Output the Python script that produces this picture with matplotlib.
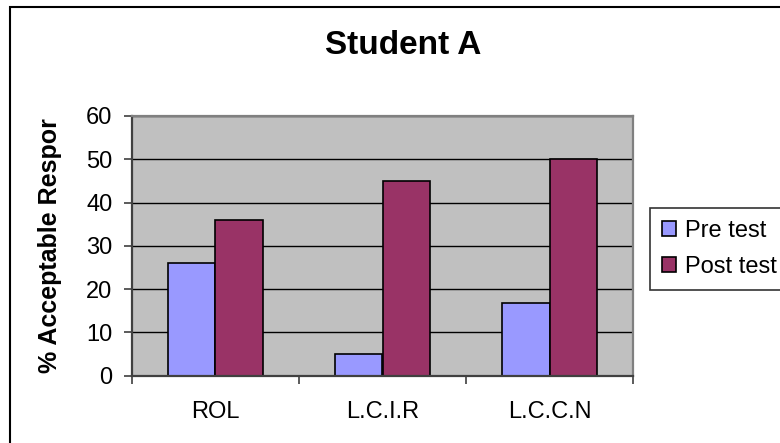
import matplotlib
matplotlib.use("Agg")
import matplotlib.pyplot as plt
from matplotlib.patches import Rectangle, Patch
import numpy as np

plt.rcParams['font.family'] = ['Liberation Sans', 'DejaVu Sans']

categories = ["ROL", "L.C.I.R", "L.C.C.N"]
pre_test = [26, 5, 16.7]
post_test = [36, 45, 50]
series_names = ["Pre test", "Post test"]
y_ticks = [0, 10, 20, 30, 40, 50, 60]

W, H, DPI = 780, 443, 100
fig = plt.figure(figsize=(W / DPI, H / DPI), dpi=DPI)
fig.patch.set_facecolor("white")

# chart frame
fig.patches.append(Rectangle((10 / W, -0.2), 2.0, 1.2 - 6.5 / H,
                             transform=fig.transFigure, fill=False,
                             edgecolor="black", linewidth=1.5, zorder=0))

left, right, top, bottom = 131.7, 633.3, 116.0, 375.7
ax = fig.add_axes([left / W, 1 - bottom / H, (right - left) / W, (bottom - top) / H])
ax.set_facecolor("#C0C0C0")

x = np.arange(len(categories))
w = 1 / 3.5
ax.bar(x - w / 2, pre_test, w, color="#9999FF", edgecolor="black", linewidth=1.2, zorder=3)
ax.bar(x + w / 2, post_test, w, color="#993366", edgecolor="black", linewidth=1.2, zorder=3)

ax.set_xlim(-0.5, len(categories) - 0.5)
ax.set_ylim(0, 60)
ax.set_yticks(y_ticks)
ax.set_yticklabels([str(v) for v in y_ticks], fontsize=17)
ax.yaxis.grid(True, color="black", linewidth=1.0, zorder=1)
ax.set_axisbelow(True)

# category boundaries carry the tick marks, centres carry the labels
ax.set_xticks(np.arange(len(categories) + 1) - 0.5)
ax.set_xticklabels([])
ax.set_xticks(x, minor=True)
ax.set_xticklabels(categories, minor=True, fontsize=17)
ax.tick_params(axis="x", which="major", direction="out", length=6, width=1.2, color="#404040")
ax.tick_params(axis="x", which="minor", length=0, pad=18)
ax.tick_params(axis="y", direction="out", length=6, width=1.2, color="#404040", pad=8)

for s in ax.spines.values():
    s.set_color("#808080")
    s.set_linewidth(1.6)
    s.set_zorder(4)
ax.spines["left"].set_color("#404040")
ax.spines["bottom"].set_color("#404040")

fig.text(403.5 / W, 1 - 45 / H, "Student A", fontsize=24, fontweight="bold",
         ha="center", va="center")
fig.text(49.7 / W, 1 - 246 / H, "% Acceptable Respor", fontsize=18, fontweight="bold",
         rotation=90, ha="center", va="center")

handles = [Patch(facecolor="#9999FF", edgecolor="black", linewidth=1.2),
           Patch(facecolor="#993366", edgecolor="black", linewidth=1.2)]
leg = fig.legend(handles, series_names, loc="upper left",
                 bbox_to_anchor=(650 / W, 1 - 208 / H), fontsize=17,
                 frameon=True, fancybox=False, borderpad=0.5,
                 handlelength=0.6, handleheight=0.6, handletextpad=0.4,
                 labelspacing=0.6, borderaxespad=0)
leg.get_frame().set_edgecolor("black")
leg.get_frame().set_linewidth(1.2)

fig.savefig("out.png", dpi=DPI, facecolor="white")
